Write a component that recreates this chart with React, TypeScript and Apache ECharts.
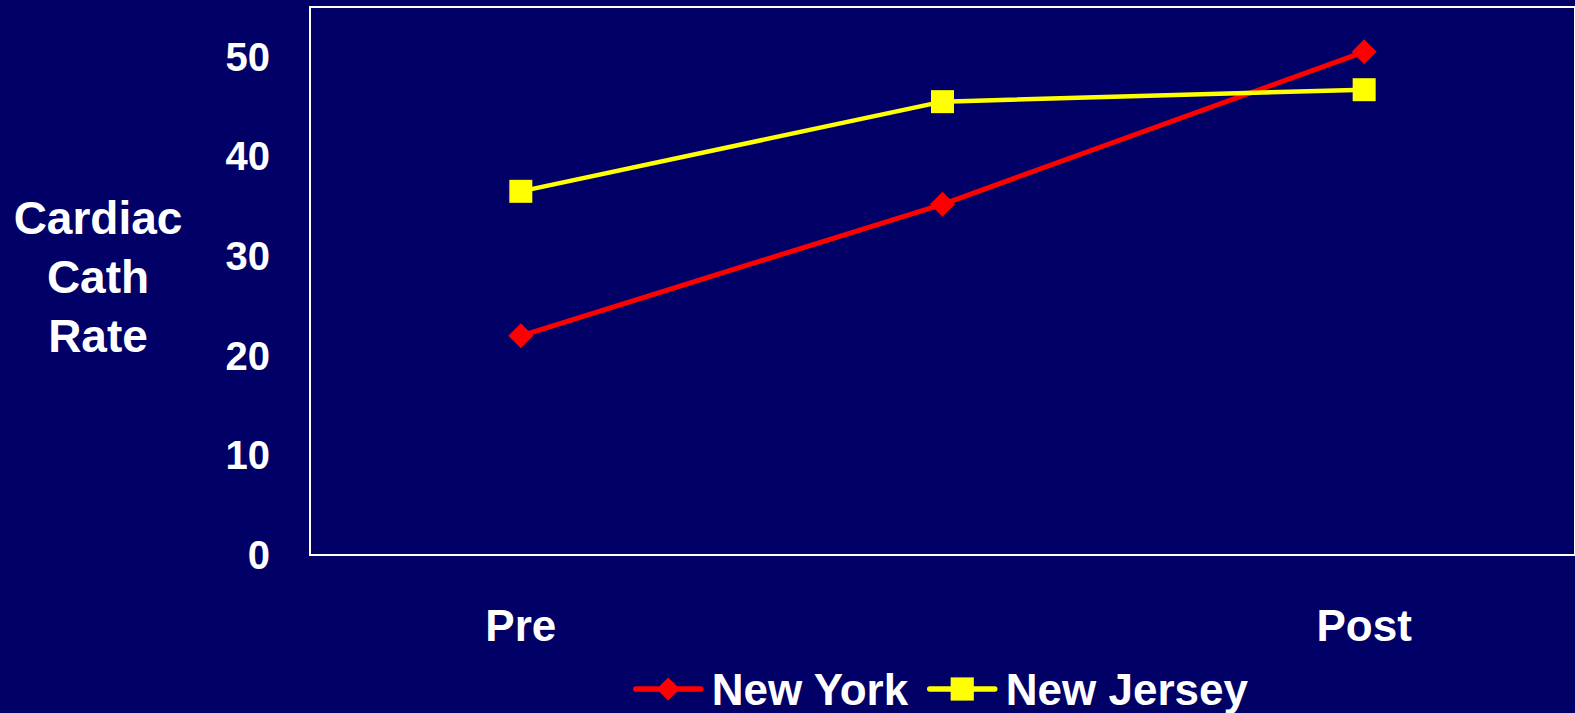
import React, { useEffect, useRef } from "react";
import * as echarts from "echarts";

// Periods on the horizontal axis (middle period has no label)
const periods = ["Pre", "", "Post"];
// Cardiac catheterisation rate per state
const newYork = [22.0, 35.2, 50.5];
const newJersey = [36.5, 45.5, 46.7];
const yTicks = [0, 10, 20, 30, 40, 50];
const seriesNames = ["New York", "New Jersey"];
const yTitleLines = ["Cardiac", "Cath", "Rate"];

const BG = "#000066";
const RED = "#ff0000";
const YELLOW = "#ffff00";
const FONT = "Arial, 'Liberation Sans', Helvetica, sans-serif";

export default function App() {
  const ref = useRef<HTMLDivElement>(null);

  useEffect(() => {
    document.body.style.margin = "0";
    document.body.style.background = BG;
    if (!ref.current) return;
    const chart = echarts.init(ref.current, undefined, { renderer: "svg" });
    chart.setOption({
      animation: false,
      backgroundColor: BG,
      grid: {
        left: 310,
        top: 7,
        width: 1268,
        height: 548,
        show: true,
        borderColor: "#ffffff",
        borderWidth: 2,
        containLabel: false,
      },
      xAxis: {
        type: "category",
        data: periods,
        boundaryGap: true,
        axisLine: { show: true, lineStyle: { color: "#ffffff", width: 2 } },
        axisTick: { show: false },
        axisLabel: {
          color: "#ffffff",
          fontFamily: FONT,
          fontWeight: "bold",
          fontSize: 44,
          margin: 48,
          interval: 0,
        },
      },
      yAxis: {
        type: "value",
        min: 0,
        max: 55,
        interval: 10,
        // a short empty last line lifts the title block a little
        name: yTitleLines.join("\n") + "\n{s| }",
        nameLocation: "middle",
        nameRotate: 0,
        nameGap: 212,
        nameTextStyle: {
          color: "#ffffff",
          fontFamily: FONT,
          fontWeight: "bold",
          fontSize: 46,
          lineHeight: 59,
          align: "center",
          rich: { s: { fontSize: 2, lineHeight: 8 } },
        },
        axisLine: { show: true, lineStyle: { color: "#ffffff", width: 2 } },
        axisTick: { show: false },
        splitLine: { show: false },
        axisLabel: {
          color: "#ffffff",
          fontFamily: FONT,
          fontWeight: "bold",
          fontSize: 40,
          margin: 40,
          formatter: (v: number) => (yTicks.includes(v) ? String(v) : ""),
        },
      },
      legend: {
        left: 633,
        top: 667,
        padding: 0,
        itemWidth: 65,
        itemHeight: 29,
        itemGap: 18,
        lineStyle: { width: 5.5, cap: "round" },
        textStyle: {
          color: "#ffffff",
          fontFamily: FONT,
          fontWeight: "bold",
          fontSize: 44,
          padding: [0, 0, 0, 6],
        },
        data: seriesNames,
      },
      series: [
        {
          name: seriesNames[0],
          type: "line",
          data: newYork,
          symbol: "diamond",
          symbolSize: 25,
          lineStyle: { color: RED, width: 5 },
          itemStyle: { color: RED },
        },
        {
          name: seriesNames[1],
          type: "line",
          data: newJersey,
          symbol: "rect",
          symbolSize: 23,
          lineStyle: { color: YELLOW, width: 4.5 },
          itemStyle: { color: YELLOW },
        },
      ],
    });
    return () => chart.dispose();
  }, []);

  return (
    <div
      ref={ref}
      style={{ position: "absolute", left: 0, top: 0, width: 1575, height: 713 }}
    />
  );
}
